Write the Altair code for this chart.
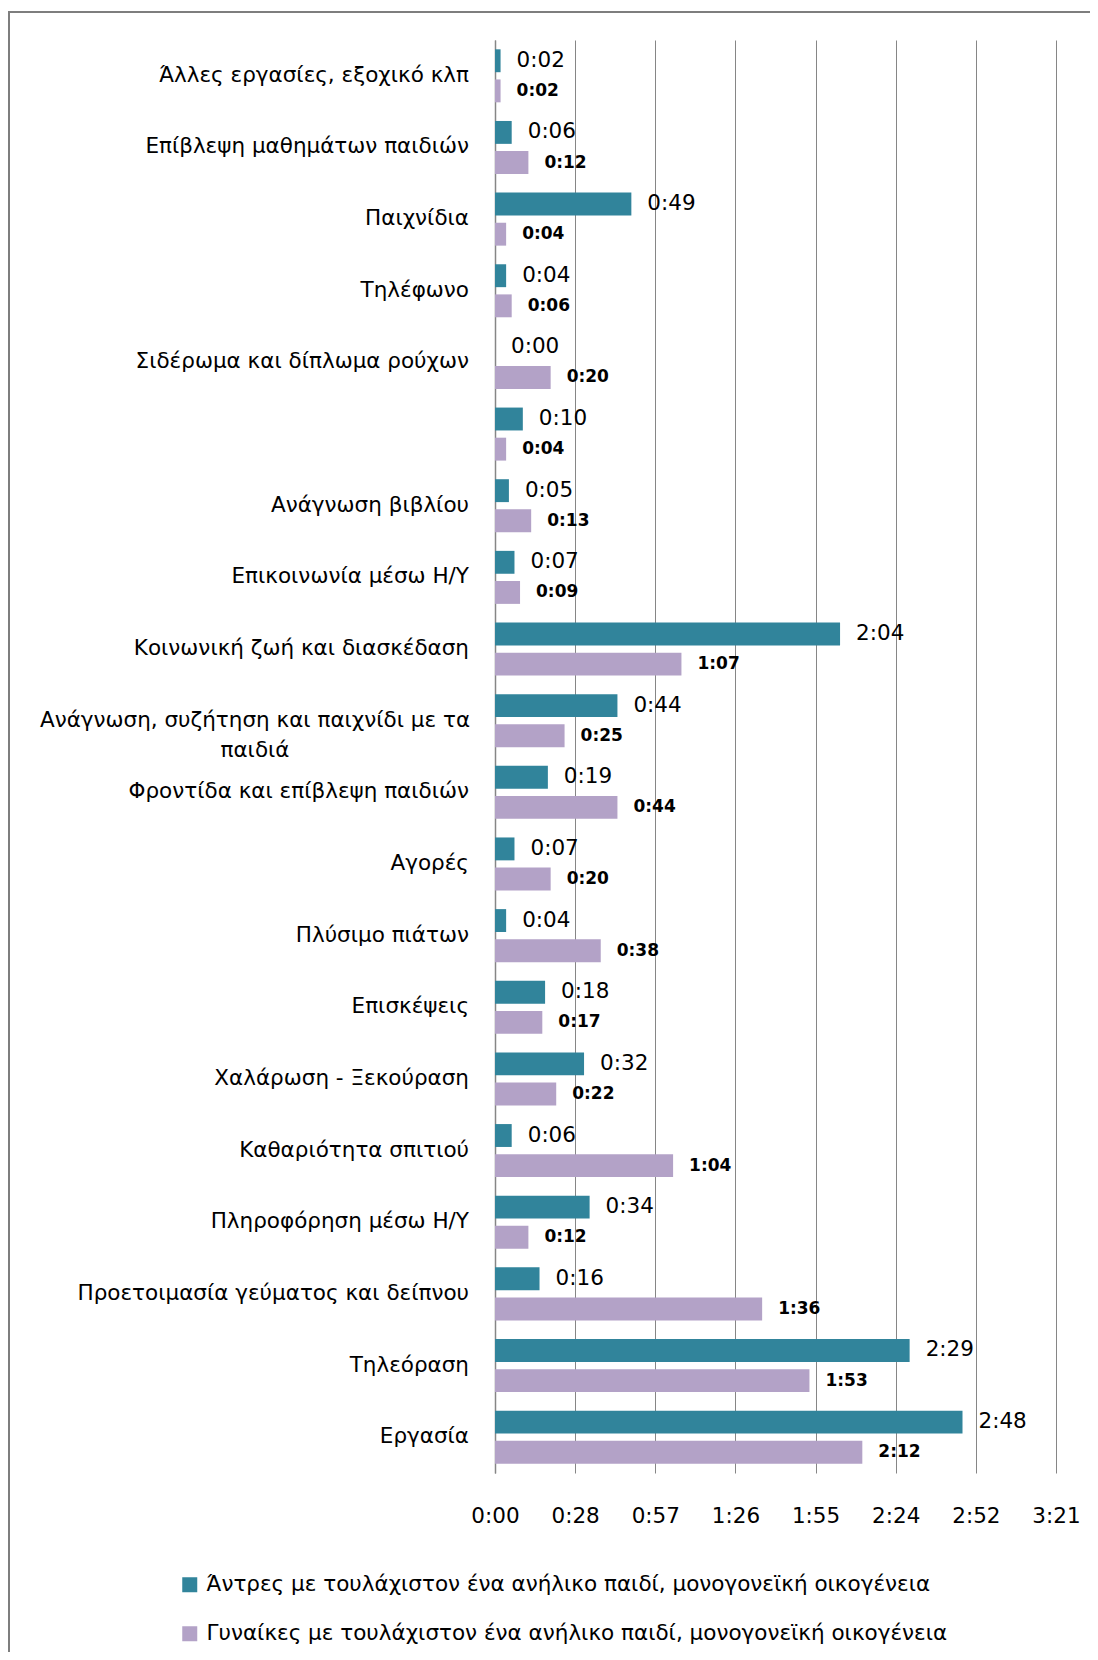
import altair as alt
import pandas as pd

categories = [
    "Άλλες εργασίες, εξοχικό κλπ",
    "Επίβλεψη μαθημάτων παιδιών",
    "Παιχνίδια",
    "Τηλέφωνο",
    "Σιδέρωμα και δίπλωμα ρούχων",
    "",
    "Ανάγνωση βιβλίου",
    "Επικοινωνία μέσω Η/Υ",
    "Κοινωνική ζωή και διασκέδαση",
    "Ανάγνωση, συζήτηση  και παιχνίδι με τα\nπαιδιά",
    "Φροντίδα και επίβλεψη παιδιών",
    "Αγορές",
    "Πλύσιμο πιάτων",
    "Επισκέψεις",
    "Χαλάρωση - Ξεκούραση",
    "Καθαριότητα σπιτιού",
    "Πληροφόρηση μέσω Η/Υ",
    "Προετοιμασία γεύματος και δείπνου",
    "Τηλεόραση",
    "Εργασία",
]
# minutes per day
men = [2, 6, 49, 4, 0, 10, 5, 7, 124, 44, 19, 7, 4, 18, 32, 6, 34, 16, 149, 168]
women = [2, 12, 4, 6, 20, 4, 13, 9, 67, 25, 44, 20, 38, 17, 22, 64, 12, 96, 113, 132]
series_names = [
    "Άντρες με τουλάχιστον ένα ανήλικο παιδί, μονογονεϊκή οικογένεια",
    "Γυναίκες με τουλάχιστον ένα ανήλικο παιδί, μονογονεϊκή οικογένεια",
]
x_ticks = [0, 28.8, 57.6, 86.4, 115.2, 144.0, 172.8, 201.6]
colors = ["#31849B", "#B3A2C7"]

keys = [f"c{i:02d}" for i in range(len(categories))]
rows = []
for i, k in enumerate(keys):
    rows.append({"key": k, "series": series_names[0], "minutes": men[i], "s": 0})
    rows.append({"key": k, "series": series_names[1], "minutes": women[i], "s": 1})
df = pd.DataFrame(rows)
cat_df = pd.DataFrame({"key": keys, "label": categories,
                       "multi": ["\n" in c for c in categories]})

FONT = "DejaVu Sans"
FS = 21.5
time_expr = ("floor(datum.minutes/60) + ':' + (datum.minutes % 60 < 10 ? '0' : '') + (datum.minutes % 60)")

y_scale = alt.Scale(paddingInner=0.26, paddingOuter=0.13)
y_enc = alt.Y("key:N", sort=keys, scale=y_scale,
              axis=alt.Axis(labels=False, ticks=False, grid=False, domain=True,
                            domainColor="#868686", domainWidth=1.5, title=None))
yoff = alt.YOffset("series:N", sort=series_names, scale=alt.Scale(paddingInner=0.24))
x_scale = alt.Scale(domain=[0, 201.6], nice=False, zero=True)

bars = alt.Chart(df).mark_bar().encode(
    x=alt.X("minutes:Q", scale=x_scale,
            axis=alt.Axis(values=x_ticks, title=None, grid=True, gridColor="#868686",
                          gridWidth=1, domain=False, ticks=False,
                          labelExpr="floor(datum.value/60) + ':' + (floor(datum.value % 60) < 10 ? '0' : '') + floor(datum.value % 60)",
                          labelFont=FONT, labelFontSize=FS, labelColor="#000000",
                          labelPadding=32, labelFlush=False)),
    y=y_enc,
    yOffset=yoff,
    color=alt.Color("series:N", sort=series_names,
                    scale=alt.Scale(domain=series_names, range=colors),
                    legend=alt.Legend(orient="none", legendX=-316, legendY=1534,
                                      direction="vertical", title=None,
                                      symbolType="square", symbolSize=225,
                                      symbolStrokeWidth=0, labelFont=FONT,
                                      labelFontSize=FS, labelColor="#000000",
                                      labelLimit=950, rowPadding=26, labelOffset=6)),
)

men_labels = alt.Chart(df).transform_filter("datum.s == 0").transform_calculate(
    t=time_expr).mark_text(align="left", baseline="middle", dx=16, font=FONT,
                           fontSize=FS, color="#000000").encode(
    x=alt.X("minutes:Q", scale=x_scale), y=alt.Y("key:N", sort=keys, scale=y_scale),
    yOffset=yoff, text="t:N")

women_labels = alt.Chart(df).transform_filter("datum.s == 1").transform_calculate(
    t=time_expr).mark_text(align="left", baseline="middle", dx=16, font=FONT,
                           fontSize=17, fontWeight="bold", color="#000000").encode(
    x=alt.X("minutes:Q", scale=x_scale), y=alt.Y("key:N", sort=keys, scale=y_scale),
    yOffset=yoff, text="t:N")

cat_single = alt.Chart(cat_df).transform_filter("!datum.multi").mark_text(
    align="right", baseline="middle", font=FONT, fontSize=FS, color="#000000").encode(
    x=alt.value(-26), y=alt.Y("key:N", sort=keys, scale=y_scale), text="label:N")

cat_multi = alt.Chart(cat_df).transform_filter("datum.multi").mark_text(
    align="center", baseline="middle", font=FONT, fontSize=FS, color="#000000",
    lineBreak="\n", lineHeight=30).encode(
    x=alt.value(-240), y=alt.Y("key:N", sort=keys, scale=y_scale), text="label:N")

frame = alt.Chart(cat_df).mark_rect(fillOpacity=0, stroke="#7f7f7f", strokeWidth=1.5,
                                    clip=False).encode(
    x=alt.value(-486), x2=alt.value(1000), y=alt.value(-28), y2=alt.value(2000))

chart = alt.layer(frame, bars, men_labels, women_labels, cat_single, cat_multi).properties(
    width=561, height=1433,
    autosize=alt.AutoSizeParams(type="none"),
    padding={"left": 487, "top": 32, "right": 34, "bottom": 179},
).configure_view(stroke=None).resolve_scale(y="shared")

chart.save("out.html", embed_options={"renderer": "svg", "actions": False})
